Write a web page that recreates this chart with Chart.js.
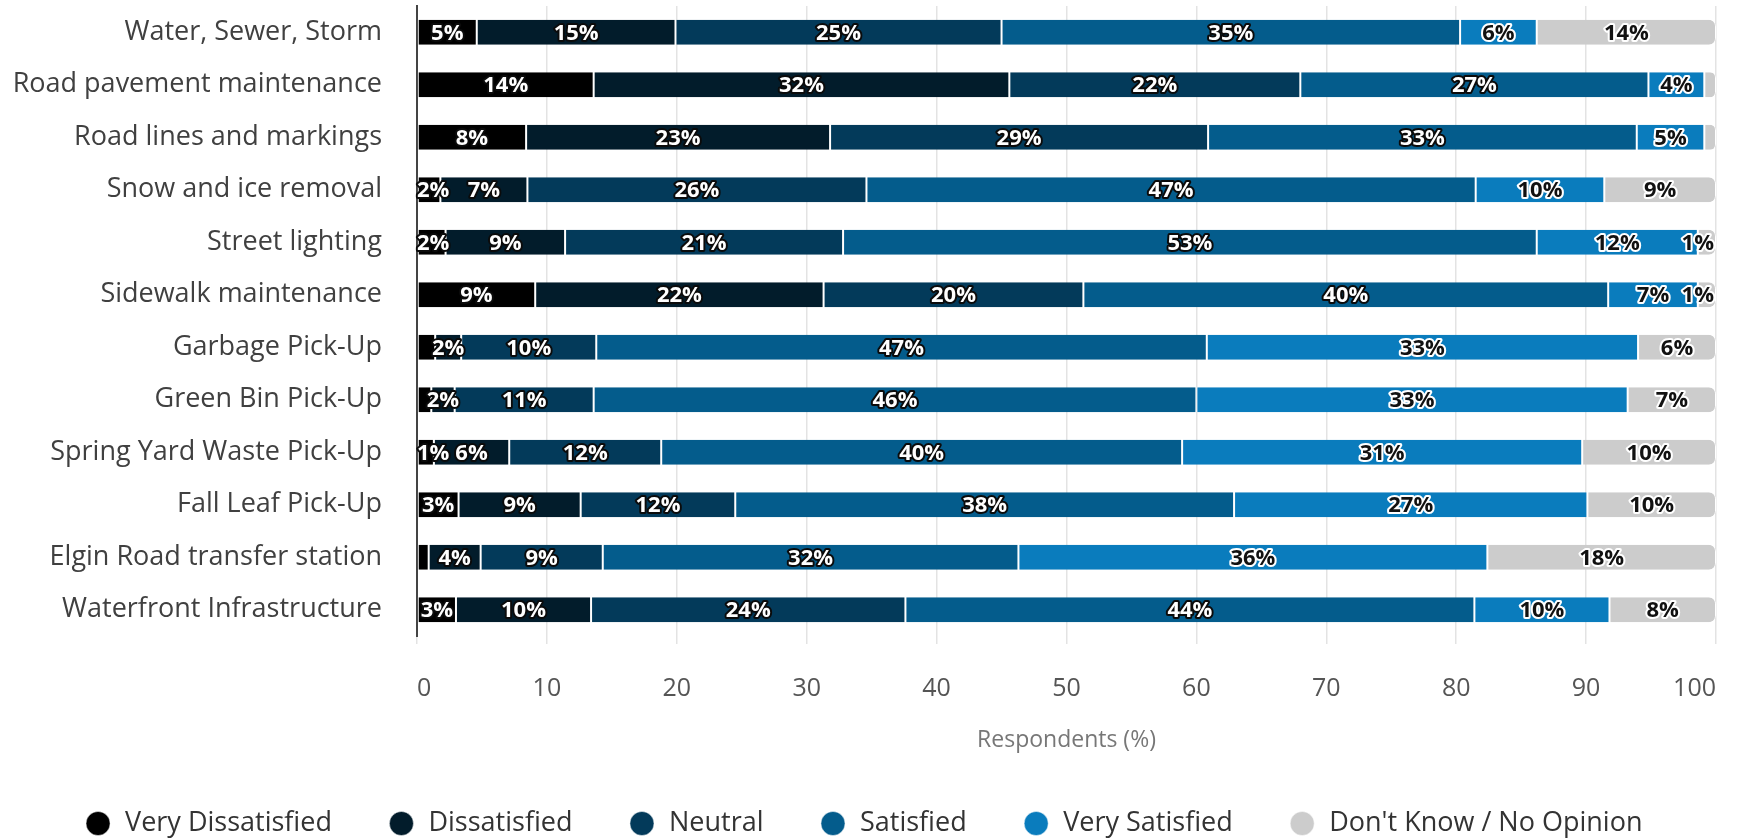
<!DOCTYPE html>
<html>
<head>
<meta charset="utf-8">
<script src="https://cdn.jsdelivr.net/npm/chart.js@4"></script>
<style>
  html, body { margin: 0; padding: 0; background: #ffffff; }
  #wrap { width: 1746px; height: 840px; position: relative; }
</style>
</head>
<body>
<div id="wrap"><canvas id="c"></canvas></div>
<script>
// ---- Data (percent of respondents) ----
const categories = [
  'Water, Sewer, Storm',
  'Road pavement maintenance',
  'Road lines and markings',
  'Snow and ice removal',
  'Street lighting',
  'Sidewalk maintenance',
  'Garbage Pick-Up',
  'Green Bin Pick-Up',
  'Spring Yard Waste Pick-Up',
  'Fall Leaf Pick-Up',
  'Elgin Road transfer station',
  'Waterfront Infrastructure'
];
const seriesNames = ['Very Dissatisfied', 'Dissatisfied', 'Neutral', 'Satisfied', 'Very Satisfied', "Don't Know / No Opinion"];
const veryDissatisfied = [4.6, 13.6, 8.4, 1.8, 2.2, 9.1, 1.4, 1.1, 1.3, 3.2, 0.9, 3.0];
const dissatisfied     = [15.3, 32.0, 23.4, 6.7, 9.2, 22.2, 2.0, 1.8, 5.8, 9.4, 4.0, 10.4];
const neutral          = [25.1, 22.4, 29.1, 26.1, 21.4, 20.0, 10.4, 10.7, 11.7, 11.9, 9.4, 24.2];
const satisfied        = [35.3, 26.8, 33.0, 46.9, 53.4, 40.4, 47.0, 46.4, 40.1, 38.4, 32.0, 43.8];
const verySatisfied    = [5.9, 4.3, 5.2, 9.9, 12.4, 6.9, 33.2, 33.2, 30.8, 27.2, 36.1, 10.4];
const dontKnow         = [13.8, 0.9, 0.9, 8.6, 1.4, 1.4, 6.0, 6.8, 10.3, 9.9, 17.6, 8.2];
const xTicks = [0, 10, 20, 30, 40, 50, 60, 70, 80, 90, 100];

const seriesData = [veryDissatisfied, dissatisfied, neutral, satisfied, verySatisfied, dontKnow];
const seriesColors = ['#000000', '#021c2b', '#033a5a', '#045c8c', '#0a7cbd', '#cccccc'];

const FONT = '"Open Sans", "Noto Sans", sans-serif';

// Segment value labels, hiding labels that would collide
const segLabels = {
  id: 'segLabels',
  afterDatasetsDraw(chart) {
    const ctx = chart.ctx;
    const area = chart.chartArea;
    ctx.save();
    ctx.font = 'bold 22px ' + FONT;
    ctx.textBaseline = 'middle';
    ctx.textAlign = 'center';
    ctx.lineJoin = 'round';
    ctx.lineWidth = 4;
    const nCat = chart.data.labels.length;
    for (let i = 0; i < nCat; i++) {
      const boxes = [];
      const items = [];
      for (let d = chart.data.datasets.length - 1; d >= 0; d--) {
        const v = chart.data.datasets[d].data[i];
        if (v < 1) continue;
        const el = chart.getDatasetMeta(d).data[i];
        const text = Math.round(v) + '%';
        const w = ctx.measureText(text).width + 4;
        const l0 = Math.min(el.base, el.x), r0 = Math.max(el.base, el.x);
        let cx = (l0 + r0) / 2;
        if (cx + w / 2 > area.right) cx = area.right - w / 2;
        if (cx - w / 2 < area.left - 2) cx = area.left - 2 + w / 2;
        const box = { l: cx - w / 2, r: cx + w / 2 };
        if (boxes.some(b => box.l < b.r && box.r > b.l)) continue;
        boxes.push(box);
        items.push({ text, cx, cy: el.y + 1, d });
      }
      items.forEach(it => {
        if (it.d >= 4) { ctx.strokeStyle = '#ffffff'; ctx.fillStyle = '#111111'; }
        else { ctx.strokeStyle = '#0b0b0b'; ctx.fillStyle = '#ffffff'; }
        ctx.strokeText(it.text, it.cx, it.cy);
        ctx.fillText(it.text, it.cx, it.cy);
      });
    }
    ctx.restore();
  }
};

const legendFitPatch = {
  id: 'legendFitPatch',
  beforeLayout(chart) {
    const lg = chart.legend;
    if (lg && !lg._patched) {
      const orig = lg.fit;
      lg.fit = function () { orig.call(this); this.height -= 7; };
      lg._patched = true;
    }
  }
};

const datasets = seriesNames.map((name, k) => ({
  label: name,
  data: seriesData[k],
  backgroundColor: seriesColors[k],
  borderColor: '#ffffff',
  borderWidth: { left: 1, right: 1, top: 0, bottom: 0 },
  borderSkipped: false,
  borderRadius: k === 5 ? { topLeft: 0, bottomLeft: 0, topRight: 7, bottomRight: 7 } : 0,
  categoryPercentage: 1,
  barPercentage: 0.48
}));

new Chart(document.getElementById('c'), {
  type: 'bar',
  data: { labels: categories, datasets },
  options: {
    indexAxis: 'y',
    responsive: true,
    maintainAspectRatio: false,
    animation: false,
    layout: { padding: { top: 6, right: 19, left: 0, bottom: 0 } },
    scales: {
      x: {
        stacked: true,
        min: 0,
        max: 100,
        afterBuildTicks(scale) { scale.ticks = xTicks.map(v => ({ value: v })); },
        afterFit(scale) { scale.height = 118; },
        grid: { color: '#e3e3e3', lineWidth: 1.5, drawTicks: true, tickLength: 8 },
        border: { display: false },
        ticks: {
          align: 'inner',
          padding: 30,
          color: '#555555',
          font: { family: FONT, size: 25 }
        },
        title: {
          display: true,
          text: 'Respondents (%)',
          color: '#777777',
          font: { family: FONT, size: 23 },
          padding: { top: 0, bottom: 0 }
        }
      },
      y: {
        stacked: true,
        afterFit(scale) { scale.width = 417; scale.paddingTop = 0; scale.paddingBottom = 0; },
        grid: { display: false, drawTicks: false },
        border: { display: true, color: '#444444', width: 2 },
        ticks: {
          padding: 35,
          color: '#404040',
          font: { family: FONT, size: 27 }
        }
      }
    },
    plugins: {
      legend: {
        position: 'bottom',
        labels: {
          usePointStyle: true,
          pointStyle: 'circle',
          boxWidth: 27,
          boxHeight: 17,
          padding: 56,
          color: '#333333',
          font: { family: FONT, size: 27 }
        }
      },
      tooltip: { enabled: false }
    }
  },
  plugins: [segLabels, legendFitPatch]
});
</script>
</body>
</html>
